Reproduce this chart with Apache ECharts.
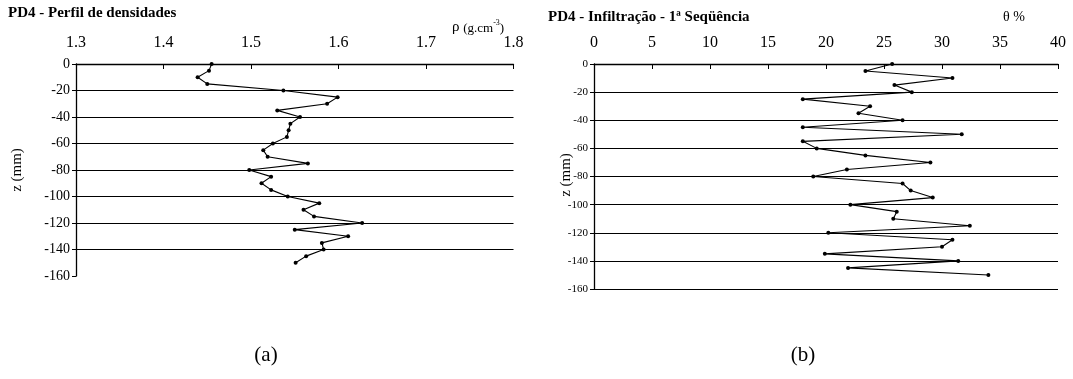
<!DOCTYPE html>
<html>
<head>
<meta charset="utf-8">
<script src="https://cdn.jsdelivr.net/npm/echarts@6/dist/echarts.min.js"></script>
<style>
  html, body { margin: 0; padding: 0; background: #fff; }
  #chart { width: 1073px; height: 379px; }
</style>
</head>
<body>
<div id="chart"></div>
<script>
// (a) density profile: depth (mm) and dry density (g/cm3)
var depthA = [0, -5, -10, -15, -20, -25, -30, -35, -40, -45, -50, -55, -60, -65, -70, -75, -80, -85, -90, -95, -100, -105, -110, -115, -120, -125, -130, -135, -140, -145, -150];
var rhoA = [1.455, 1.452, 1.439, 1.450, 1.537, 1.599, 1.587, 1.530, 1.556, 1.545, 1.543, 1.541, 1.525, 1.514, 1.519, 1.565, 1.498, 1.523, 1.512, 1.523, 1.542, 1.578, 1.560, 1.572, 1.627, 1.550, 1.611, 1.581, 1.583, 1.563, 1.551];

// (b) infiltration, 1st sequence: depth (mm) and moisture theta (%)
var depthB = [0, -5, -10, -15, -20, -25, -30, -35, -40, -45, -50, -55, -60, -65, -70, -75, -80, -85, -90, -95, -100, -105, -110, -115, -120, -125, -130, -135, -140, -145, -150];
var thetaB = [25.7, 23.4, 30.9, 25.9, 27.4, 18.0, 23.8, 22.8, 26.6, 18.0, 31.7, 18.0, 19.2, 23.4, 29.0, 21.8, 18.9, 26.6, 27.3, 29.2, 22.1, 26.1, 25.8, 32.4, 20.2, 30.9, 30.0, 19.9, 31.4, 21.9, 34.0];

var ticksA = [1.3, 1.4, 1.5, 1.6, 1.7, 1.8];
var ticksB = [0, 5, 10, 15, 20, 25, 30, 35, 40];

var serif = 'Liberation Serif';

function pairs(xs, ys) {
  return xs.map(function (x, i) { return [x, ys[i]]; });
}

var chart = echarts.init(document.getElementById('chart'), null, { renderer: 'canvas' });

function xAxisCfg(idx, min, max, interval, fmt) {
  return {
    type: 'value', gridIndex: idx, position: 'top',
    min: min, max: max, interval: interval,
    axisLine: { show: true, onZero: false, lineStyle: { color: '#000', width: 1.3 } },
    axisTick: { show: true, inside: true, length: 5, lineStyle: { color: '#000' } },
    axisLabel: { color: '#000', fontFamily: serif, fontSize: 16, margin: 13, formatter: fmt },
    splitLine: { show: false }
  };
}

function yAxisCfg(idx, fontSize, showMin) {
  return {
    type: 'value', gridIndex: idx,
    min: -160, max: 0, interval: 20,
    axisLine: { show: true, onZero: false, lineStyle: { color: '#000', width: 1.3 } },
    axisTick: { show: true, inside: false, length: 4, lineStyle: { color: '#000' } },
    axisLabel: { color: '#000', fontFamily: serif, fontSize: fontSize, margin: 6 },
    splitLine: { show: true, showMinLine: showMin, showMaxLine: false, lineStyle: { color: '#000', width: 1 } }
  };
}

var option = {
  backgroundColor: '#fff',
  animation: false,
  grid: [
    { left: 76, top: 64, width: 437.5, height: 212, containLabel: false },
    { left: 594, top: 64, width: 464, height: 225, containLabel: false }
  ],
  xAxis: [
    xAxisCfg(0, ticksA[0], ticksA[ticksA.length - 1], 0.1, function (v) { return v.toFixed(1); }),
    xAxisCfg(1, ticksB[0], ticksB[ticksB.length - 1], 5, function (v) { return String(v); })
  ],
  yAxis: [
    yAxisCfg(0, 14, false),
    yAxisCfg(1, 11, true)
  ],
  series: [
    {
      type: 'line', xAxisIndex: 0, yAxisIndex: 0,
      data: pairs(rhoA, depthA),
      symbol: 'circle', symbolSize: 4,
      itemStyle: { color: '#000' },
      lineStyle: { color: '#000', width: 1.1 }
    },
    {
      type: 'line', xAxisIndex: 1, yAxisIndex: 1,
      data: pairs(thetaB, depthB),
      symbol: 'circle', symbolSize: 4,
      itemStyle: { color: '#000' },
      lineStyle: { color: '#000', width: 1.1 }
    }
  ],
  graphic: [
    { type: 'text', left: 8, top: 6,
      style: { text: 'PD4 - Perfil de densidades', fill: '#000', font: 'bold 15px "Liberation Serif"' } },
    { type: 'text', left: 548, top: 10,
      style: { text: 'PD4 - Infiltração - 1ª Seqüência', fill: '#000', font: 'bold 15px "Liberation Serif"' } },
    { type: 'text', left: 452, top: 19,
      style: {
        text: '{a|ρ }{b|(g.cm}{s|-3}{b|)}',
        rich: {
          a: { fontFamily: serif, fontSize: 15, fill: '#000', verticalAlign: 'bottom' },
          b: { fontFamily: serif, fontSize: 13, fill: '#000', verticalAlign: 'bottom' },
          s: { fontFamily: serif, fontSize: 8, fill: '#000', verticalAlign: 'top', padding: [0, 0, 8, 0] }
        }
      } },
    { type: 'text', left: 1003, top: 10,
      style: { text: 'θ %', fill: '#000', font: '14px "Liberation Serif"' } },
    { type: 'text', x: 17, y: 170, rotation: Math.PI / 2,
      style: { text: 'z (mm)', fill: '#000', font: '15px "Liberation Serif"', align: 'center', verticalAlign: 'middle' } },
    { type: 'text', x: 566, y: 175, rotation: Math.PI / 2,
      style: { text: 'z (mm)', fill: '#000', font: '15px "Liberation Serif"', align: 'center', verticalAlign: 'middle' } },
    { type: 'text', x: 266, y: 355,
      style: { text: '(a)', fill: '#000', font: '21px "Liberation Serif"', align: 'center', verticalAlign: 'middle' } },
    { type: 'text', x: 803, y: 355,
      style: { text: '(b)', fill: '#000', font: '21px "Liberation Serif"', align: 'center', verticalAlign: 'middle' } }
  ]
};

chart.setOption(option);
</script>
</body>
</html>
